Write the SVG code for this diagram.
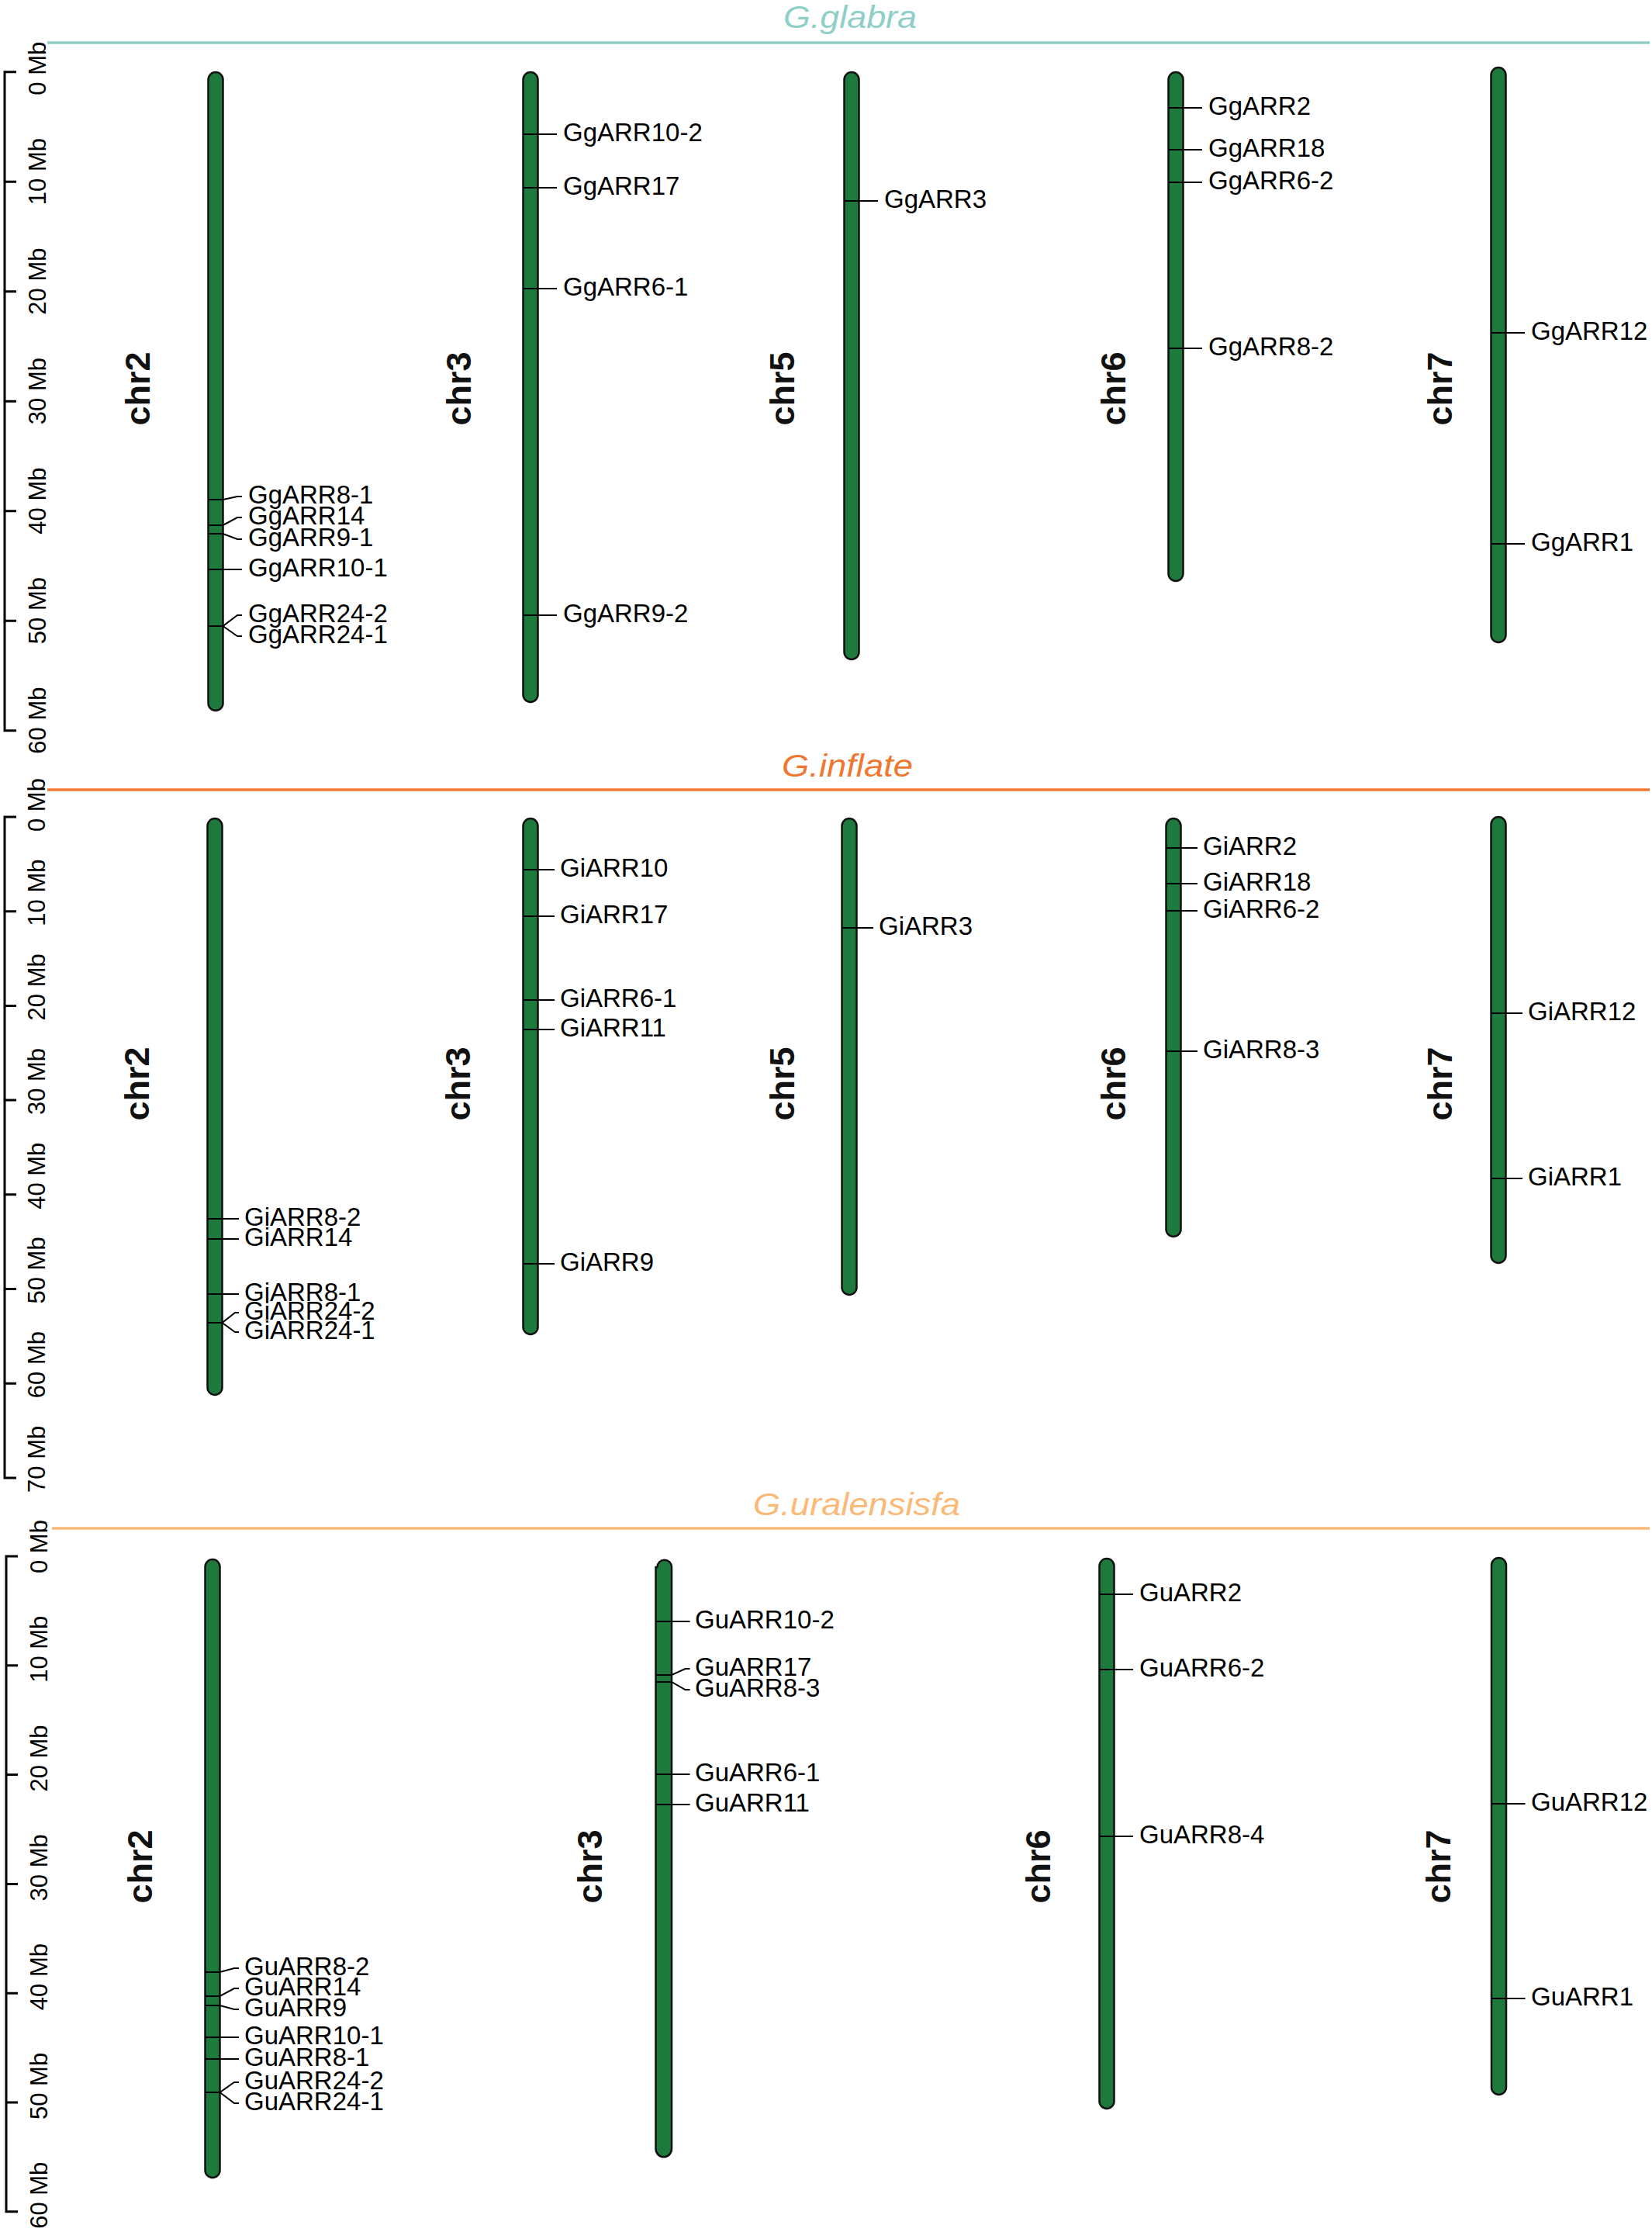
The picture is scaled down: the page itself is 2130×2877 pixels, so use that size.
<svg xmlns="http://www.w3.org/2000/svg" width="2130" height="2877" viewBox="0 0 2130 2877">
<style>
.bg{fill:#ffffff}
.chr{fill:#1d7a3c;stroke:#111;stroke-width:2.5}
.mk{stroke:#000;stroke-width:2;fill:none}
.gl{font-family:"Liberation Sans",Arial,sans-serif;font-size:33px;fill:#000}
.cl{font-family:"Liberation Sans",Arial,sans-serif;font-size:45px;font-weight:bold;fill:#111}
.sl{font-family:"Liberation Sans",Arial,sans-serif;font-size:31px;fill:#000}
.sb{stroke:#000;stroke-width:3;fill:none}
.tt{font-family:"Liberation Sans",Arial,sans-serif;font-size:41px;font-style:italic}
</style>
<rect class="bg" x="0" y="0" width="2130" height="2877"/>

<!-- section headers -->
<g id="hdr-glabra">
<line x1="61" y1="55" x2="2127" y2="55" stroke="#8fcfc8" stroke-width="3.5"/>
<text class="tt" x="1010" y="36" fill="#8fcfc8" textLength="172" lengthAdjust="spacingAndGlyphs">G.glabra</text>
</g>
<g id="hdr-inflate">
<line x1="61" y1="1018" x2="2127" y2="1018" stroke="#f0772f" stroke-width="3.5"/>
<text class="tt" x="1008" y="1001" fill="#f0772f" textLength="169" lengthAdjust="spacingAndGlyphs">G.inflate</text>
</g>
<g id="hdr-uralensis">
<line x1="67" y1="1970" x2="2127" y2="1970" stroke="#fbb978" stroke-width="3.5"/>
<text class="tt" x="971" y="1953" fill="#fbb978" textLength="267" lengthAdjust="spacingAndGlyphs">G.uralensisfa</text>
</g>

<!-- scale bars -->
<g id="scale-1">
<path class="sb" d="M21,92.7H6V941.7H21M6,234.2H21M6,375.7H21M6,517.2H21M6,658.7H21M6,800.2H21"/>
<text class="sl" transform="translate(59,122.7) rotate(-90)">0 Mb</text>
<text class="sl" transform="translate(59,264.2) rotate(-90)">10 Mb</text>
<text class="sl" transform="translate(59,405.7) rotate(-90)">20 Mb</text>
<text class="sl" transform="translate(59,547.2) rotate(-90)">30 Mb</text>
<text class="sl" transform="translate(59,688.7) rotate(-90)">40 Mb</text>
<text class="sl" transform="translate(59,830.2) rotate(-90)">50 Mb</text>
<text class="sl" transform="translate(59,971.7) rotate(-90)">60 Mb</text>
</g>
<g id="scale-2">
<path class="sb" d="M21,1053H6V1904.9H21M6,1174.7H21M6,1296.4H21M6,1418.1H21M6,1539.8H21M6,1661.5H21M6,1783.2H21"/>
<text class="sl" transform="translate(58,1072) rotate(-90)">0 Mb</text>
<text class="sl" transform="translate(58,1193.7) rotate(-90)">10 Mb</text>
<text class="sl" transform="translate(58,1315.4) rotate(-90)">20 Mb</text>
<text class="sl" transform="translate(58,1437.1) rotate(-90)">30 Mb</text>
<text class="sl" transform="translate(58,1558.8) rotate(-90)">40 Mb</text>
<text class="sl" transform="translate(58,1680.5) rotate(-90)">50 Mb</text>
<text class="sl" transform="translate(58,1802.2) rotate(-90)">60 Mb</text>
<text class="sl" transform="translate(58,1923.9) rotate(-90)">70 Mb</text>
</g>
<g id="scale-3">
<path class="sb" d="M23,2006H8V2850.8H23M8,2146.8H23M8,2287.6H23M8,2428.4H23M8,2569.2H23M8,2710H23"/>
<text class="sl" transform="translate(61,2028) rotate(-90)">0 Mb</text>
<text class="sl" transform="translate(61,2168.8) rotate(-90)">10 Mb</text>
<text class="sl" transform="translate(61,2309.6) rotate(-90)">20 Mb</text>
<text class="sl" transform="translate(61,2450.4) rotate(-90)">30 Mb</text>
<text class="sl" transform="translate(61,2591.2) rotate(-90)">40 Mb</text>
<text class="sl" transform="translate(61,2732) rotate(-90)">50 Mb</text>
<text class="sl" transform="translate(61,2872.8) rotate(-90)">60 Mb</text>
</g>

<!-- Panel 1: G.glabra -->
<g id="gg-chr2">
<text class="cl" transform="translate(193,501) rotate(-90)" text-anchor="middle">chr2</text>
<rect class="chr" x="268.5" y="93" width="19" height="823" rx="9.5"/>
<text class="gl" x="320" y="649">GgARR8-1</text>
<text class="gl" x="320" y="676">GgARR14</text>
<text class="gl" x="320" y="704">GgARR9-1</text>
<text class="gl" x="320" y="743">GgARR10-1</text>
<text class="gl" x="320" y="802">GgARR24-2</text>
<text class="gl" x="320" y="829">GgARR24-1</text>
</g>
<g id="gg-chr3">
<text class="cl" transform="translate(607,501) rotate(-90)" text-anchor="middle">chr3</text>
<rect class="chr" x="674.5" y="93" width="19" height="812" rx="9.5"/>
<text class="gl" x="726" y="182">GgARR10-2</text>
<text class="gl" x="726" y="251">GgARR17</text>
<text class="gl" x="726" y="381">GgARR6-1</text>
<text class="gl" x="726" y="802">GgARR9-2</text>
</g>
<g id="gg-chr5">
<text class="cl" transform="translate(1024,501) rotate(-90)" text-anchor="middle">chr5</text>
<rect class="chr" x="1088.5" y="93" width="19" height="757" rx="9.5"/>
<text class="gl" x="1140" y="268">GgARR3</text>
</g>
<g id="gg-chr6">
<text class="cl" transform="translate(1451,501) rotate(-90)" text-anchor="middle">chr6</text>
<rect class="chr" x="1506.5" y="93" width="19" height="656" rx="9.5"/>
<text class="gl" x="1558" y="148">GgARR2</text>
<text class="gl" x="1558" y="202">GgARR18</text>
<text class="gl" x="1558" y="244">GgARR6-2</text>
<text class="gl" x="1558" y="458">GgARR8-2</text>
</g>
<g id="gg-chr7">
<text class="cl" transform="translate(1872,501) rotate(-90)" text-anchor="middle">chr7</text>
<rect class="chr" x="1922.5" y="87" width="19" height="741" rx="9.5"/>
<text class="gl" x="1974" y="438">GgARR12</text>
<text class="gl" x="1974" y="710">GgARR1</text>
</g>

<!-- Panel 2: G.inflate -->
<g id="gi-chr2">
<text class="cl" transform="translate(192,1397) rotate(-90)" text-anchor="middle">chr2</text>
<rect class="chr" x="267.5" y="1055" width="19" height="743" rx="9.5"/>
<text class="gl" x="315" y="1580">GiARR8-2</text>
<text class="gl" x="315" y="1606">GiARR14</text>
<text class="gl" x="315" y="1677">GiARR8-1</text>
<text class="gl" x="315" y="1701">GiARR24-2</text>
<text class="gl" x="315" y="1726">GiARR24-1</text>
</g>
<g id="gi-chr3">
<text class="cl" transform="translate(606,1397) rotate(-90)" text-anchor="middle">chr3</text>
<rect class="chr" x="674.5" y="1055" width="19" height="665" rx="9.5"/>
<text class="gl" x="722" y="1130">GiARR10</text>
<text class="gl" x="722" y="1190">GiARR17</text>
<text class="gl" x="722" y="1298">GiARR6-1</text>
<text class="gl" x="722" y="1336">GiARR11</text>
<text class="gl" x="722" y="1638">GiARR9</text>
</g>
<g id="gi-chr5">
<text class="cl" transform="translate(1024,1397) rotate(-90)" text-anchor="middle">chr5</text>
<rect class="chr" x="1085.5" y="1055" width="19" height="614" rx="9.5"/>
<text class="gl" x="1133" y="1205">GiARR3</text>
</g>
<g id="gi-chr6">
<text class="cl" transform="translate(1451,1397) rotate(-90)" text-anchor="middle">chr6</text>
<rect class="chr" x="1503.5" y="1055" width="19" height="539" rx="9.5"/>
<text class="gl" x="1551" y="1102">GiARR2</text>
<text class="gl" x="1551" y="1148">GiARR18</text>
<text class="gl" x="1551" y="1183">GiARR6-2</text>
<text class="gl" x="1551" y="1364">GiARR8-3</text>
</g>
<g id="gi-chr7">
<text class="cl" transform="translate(1872,1397) rotate(-90)" text-anchor="middle">chr7</text>
<rect class="chr" x="1922.5" y="1053" width="19" height="575" rx="9.5"/>
<text class="gl" x="1970" y="1315">GiARR12</text>
<text class="gl" x="1970" y="1528">GiARR1</text>
</g>

<!-- Panel 3: G.uralensis -->
<g id="gu-chr2">
<text class="cl" transform="translate(196,2406) rotate(-90)" text-anchor="middle">chr2</text>
<rect class="chr" x="264.5" y="2010" width="19" height="797" rx="9.5"/>
<text class="gl" x="315" y="2546">GuARR8-2</text>
<text class="gl" x="315" y="2572">GuARR14</text>
<text class="gl" x="315" y="2599">GuARR9</text>
<text class="gl" x="315" y="2635">GuARR10-1</text>
<text class="gl" x="315" y="2663">GuARR8-1</text>
<text class="gl" x="315" y="2693">GuARR24-2</text>
<text class="gl" x="315" y="2720">GuARR24-1</text>
</g>
<g id="gu-chr3">
<text class="cl" transform="translate(776,2406) rotate(-90)" text-anchor="middle">chr3</text>
<path class="chr" d="M845.5,2770V2020H847.5A9.25,9.25 0 0 1 866,2020V2770A10.25,10.25 0 0 1 845.5,2770Z"/>
<text class="gl" x="896" y="2099">GuARR10-2</text>
<text class="gl" x="896" y="2160">GuARR17</text>
<text class="gl" x="896" y="2187">GuARR8-3</text>
<text class="gl" x="896" y="2296">GuARR6-1</text>
<text class="gl" x="896" y="2335">GuARR11</text>
</g>
<g id="gu-chr6">
<text class="cl" transform="translate(1354,2406) rotate(-90)" text-anchor="middle">chr6</text>
<rect class="chr" x="1417.5" y="2009" width="19" height="709" rx="9.5"/>
<text class="gl" x="1469" y="2064">GuARR2</text>
<text class="gl" x="1469" y="2161">GuARR6-2</text>
<text class="gl" x="1469" y="2376">GuARR8-4</text>
</g>
<g id="gu-chr7">
<text class="cl" transform="translate(1870,2406) rotate(-90)" text-anchor="middle">chr7</text>
<rect class="chr" x="1923" y="2008" width="19" height="692" rx="9.5"/>
<text class="gl" x="1974" y="2334">GuARR12</text>
<text class="gl" x="1974" y="2585">GuARR1</text>
</g>

<g id="connectors" class="mk">
<path d="M268.5,644H287.5L306,640H312"/>
<path d="M268.5,677H287.5L306,667H312"/>
<path d="M268.5,688H287.5L306,695H312"/>
<path d="M268.5,734H312"/>
<path d="M268.5,807H287.5L306,793H312"/>
<path d="M287.5,807L306,820H312"/>
<path d="M674.5,173H718"/>
<path d="M674.5,242H718"/>
<path d="M674.5,372H718"/>
<path d="M674.5,793H718"/>
<path d="M1088.5,259H1132"/>
<path d="M1506.5,139H1550"/>
<path d="M1506.5,193H1550"/>
<path d="M1506.5,235H1550"/>
<path d="M1506.5,449H1550"/>
<path d="M1922.5,429H1966"/>
<path d="M1922.5,701H1966"/>
<path d="M267.5,1571H308"/>
<path d="M267.5,1597H308"/>
<path d="M267.5,1668H308"/>
<path d="M267.5,1705H286.5L303,1692H308"/>
<path d="M286.5,1705L303,1717H308"/>
<path d="M674.5,1121H715"/>
<path d="M674.5,1181H715"/>
<path d="M674.5,1289H715"/>
<path d="M674.5,1327H715"/>
<path d="M674.5,1629H715"/>
<path d="M1085.5,1196H1126"/>
<path d="M1503.5,1093H1544"/>
<path d="M1503.5,1139H1544"/>
<path d="M1503.5,1174H1544"/>
<path d="M1503.5,1355H1544"/>
<path d="M1922.5,1306H1963"/>
<path d="M1922.5,1519H1963"/>
<path d="M264.5,2542H283.5L302,2537H308"/>
<path d="M264.5,2573H283.5L302,2563H308"/>
<path d="M264.5,2585H283.5L302,2590H308"/>
<path d="M264.5,2626H308"/>
<path d="M264.5,2654H308"/>
<path d="M264.5,2697H283.5L302,2684H308"/>
<path d="M283.5,2697L302,2711H308"/>
<path d="M845.5,2090H889.5"/>
<path d="M845.5,2159H866L883.5,2151H889.5"/>
<path d="M845.5,2168H866L883.5,2178H889.5"/>
<path d="M845.5,2287H889.5"/>
<path d="M845.5,2326H889.5"/>
<path d="M1417.5,2055H1461"/>
<path d="M1417.5,2152H1461"/>
<path d="M1417.5,2367H1461"/>
<path d="M1923,2325H1966.5"/>
<path d="M1923,2576H1966.5"/>
</g>
</svg>
